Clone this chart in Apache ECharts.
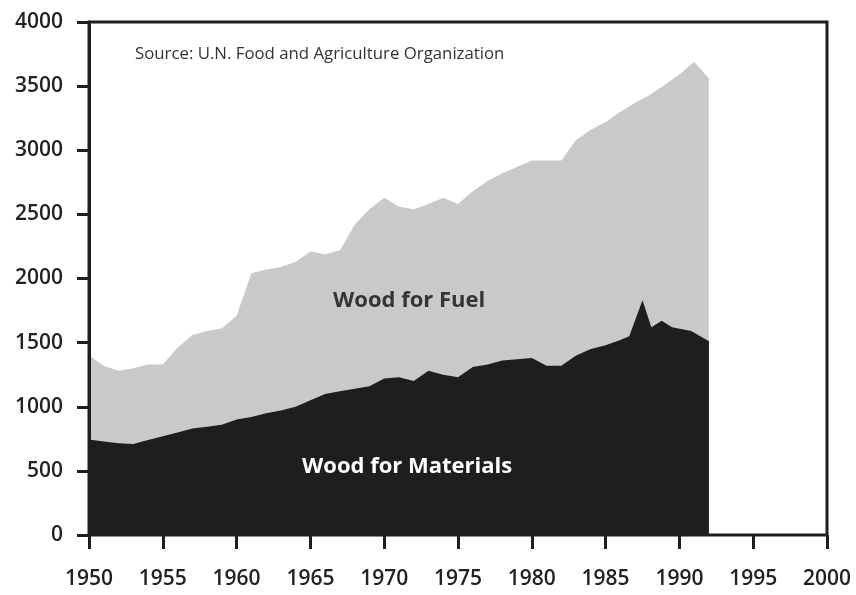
<!DOCTYPE html>
<html>
<head>
<meta charset="utf-8">
<script src="https://cdn.jsdelivr.net/npm/echarts@6/dist/echarts.min.js"></script>
<style>
  html, body { margin: 0; padding: 0; background: #fff; }
  #chart { width: 856px; height: 595px; }
</style>
</head>
<body>
<div id="chart"></div>
<script>
// top edge of the grey area = total wood use (fuel + materials)
const totalYears = [1950, 1951, 1952, 1953, 1954, 1955, 1956, 1957, 1958, 1959,
  1960, 1961, 1962, 1963, 1964, 1965, 1966, 1967, 1968, 1969,
  1970, 1971, 1972, 1973, 1974, 1975, 1976, 1977, 1978, 1979,
  1980, 1981, 1982, 1983, 1984, 1985, 1986, 1987, 1988, 1989,
  1990, 1991, 1992];
const totalValues = [1400, 1320, 1280, 1300, 1330, 1330, 1460, 1560, 1590, 1610,
  1710, 2040, 2070, 2090, 2130, 2210, 2190, 2220, 2420, 2540,
  2630, 2560, 2540, 2580, 2630, 2580, 2680, 2760, 2820, 2870,
  2920, 2920, 2920, 3080, 3160, 3220, 3300, 3370, 3430, 3510,
  3590, 3690, 3560];

// black area = wood for materials
const materialYears = [1950, 1951, 1952, 1953, 1954, 1955, 1956, 1957, 1958, 1959,
  1960, 1961, 1962, 1963, 1964, 1965, 1966, 1967, 1968, 1969,
  1970, 1971, 1972, 1973, 1974, 1975, 1976, 1977, 1978, 1979,
  1980, 1981, 1982, 1983, 1984, 1985, 1986, 1986.6, 1987.5, 1988.1,
  1988.8, 1989.5, 1990.8, 1992];
const materialValues = [745, 730, 715, 710, 740, 770, 800, 830, 845, 860,
  900, 920, 950, 970, 1000, 1050, 1100, 1120, 1140, 1160,
  1220, 1230, 1200, 1280, 1250, 1230, 1310, 1330, 1360, 1370,
  1380, 1320, 1320, 1400, 1450, 1480, 1520, 1550, 1830, 1620,
  1670, 1620, 1590, 1510];

const sourceNote = "Source: U.N. Food and Agriculture Organization";
const fuelLabel = "Wood for Fuel";
const materialLabel = "Wood for Materials";

const pairs = (xs, ys) => xs.map((x, i) => [x, ys[i]]);

const ink = "#1f1d1d";
const font = "'Open Sans', 'Noto Sans', sans-serif";

const chart = echarts.init(document.getElementById("chart"));

const option = {
  animation: false,
  backgroundColor: "#fff",
  grid: {
    left: 89,
    right: 29,
    top: 22,
    bottom: 60,
    show: true,
    borderColor: ink,
    borderWidth: 3,
  },
  xAxis: {
    type: "value",
    min: 1950,
    max: 2000,
    interval: 5,
    z: 5,
    axisLine: { show: true, lineStyle: { color: ink, width: 2 } },
    axisTick: { show: true, length: 14, lineStyle: { color: ink, width: 3 } },
    axisLabel: {
      margin: 34,
      color: "#222",
      fontFamily: font,
      fontSize: 21,
      fontWeight: 600,
      formatter: (v) => String(v),
    },
    splitLine: { show: false },
  },
  yAxis: {
    type: "value",
    min: 0,
    max: 4000,
    interval: 500,
    z: 5,
    axisLine: { show: true, lineStyle: { color: ink, width: 3 } },
    axisTick: { show: true, length: 12, lineStyle: { color: ink, width: 3 } },
    axisLabel: {
      margin: 26,
      color: "#222",
      fontFamily: font,
      fontSize: 21,
      fontWeight: 600,
      formatter: (v) => String(v),
    },
    splitLine: { show: false },
  },
  series: [
    {
      name: "Total",
      type: "line",
      data: pairs(totalYears, totalValues),
      showSymbol: false,
      lineStyle: { width: 0 },
      areaStyle: { color: "#c8c9c9", opacity: 1 },
      z: 2,
    },
    {
      name: "Materials",
      type: "line",
      data: pairs(materialYears, materialValues),
      showSymbol: false,
      lineStyle: { width: 0 },
      areaStyle: { color: ink, opacity: 1 },
      z: 3,
    },
  ],
  graphic: [
    {
      type: "text",
      left: 135,
      top: 46,
      z: 100,
      style: { text: sourceNote, fill: "#333", font: "16.8px " + font },
    },
    {
      type: "text",
      left: 333,
      top: 290,
      z: 100,
      style: { text: fuelLabel, fill: "#353535", font: "bold 22px " + font },
    },
    {
      type: "text",
      left: 302,
      top: 456,
      z: 100,
      style: { text: materialLabel, fill: "#fff", font: "bold 22px " + font },
    },
  ],
};

chart.setOption(option);
</script>
</body>
</html>
